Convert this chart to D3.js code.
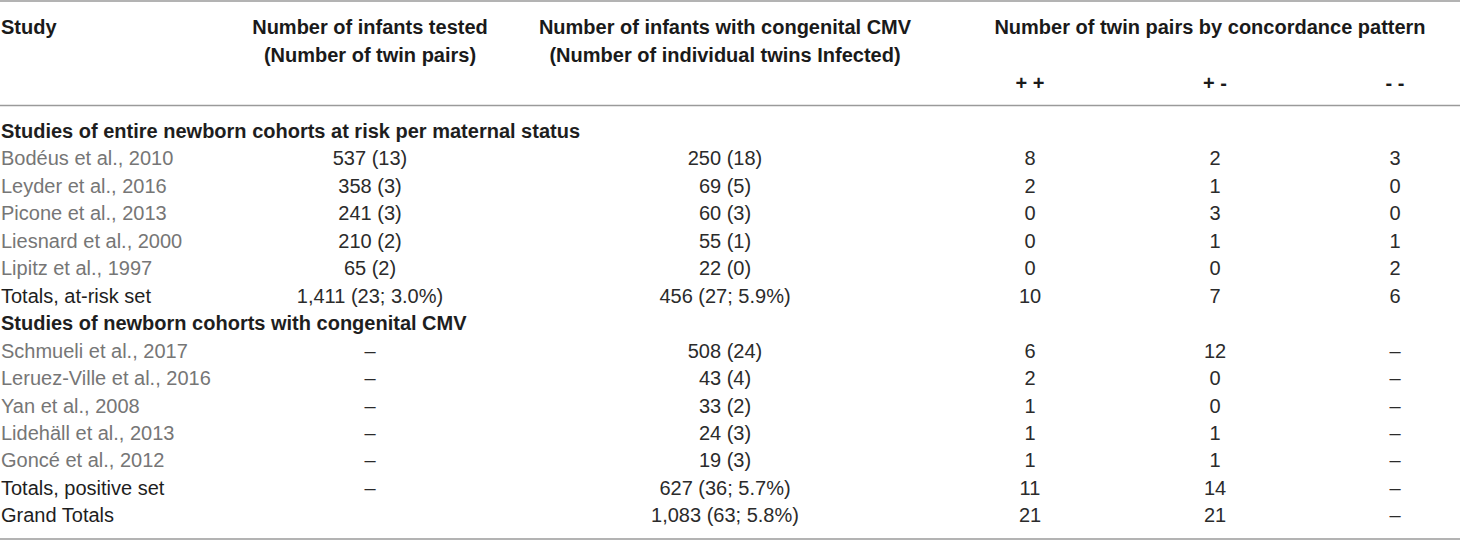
<!DOCTYPE html>
<html>
<head>
<meta charset="utf-8">
<script src="https://cdn.jsdelivr.net/npm/d3@7.9.0/dist/d3.min.js"></script>
<style>
  html, body { margin: 0; padding: 0; background: #fff; }
  svg { display: block; font-family: "Liberation Sans", Arial, Helvetica, sans-serif; }
</style>
</head>
<body>
<div id="chart"></div>
<script>
// table content
const sections = [
    'Studies of entire newborn cohorts at risk per maternal status',
    'Studies of newborn cohorts with congenital CMV'
];

const studies = [
    'Bodéus et al., 2010', 'Leyder et al., 2016', 'Picone et al., 2013',
    'Liesnard et al., 2000', 'Lipitz et al., 1997',
    'Schmueli et al., 2017', 'Leruez-Ville et al., 2016', 'Yan et al., 2008',
    'Lidehäll et al., 2013', 'Goncé et al., 2012'
];
const studySection = [0, 0, 0, 0, 0, 1, 1, 1, 1, 1];
const tested = ['537 (13)', '358 (3)', '241 (3)', '210 (2)', '65 (2)', '–', '–', '–', '–', '–'];
const infected = ['250 (18)', '69 (5)', '60 (3)', '55 (1)', '22 (0)', '508 (24)', '43 (4)', '33 (2)', '24 (3)', '19 (3)'];
const plusPlus = [8, 2, 0, 0, 0, 6, 2, 1, 1, 1];
const plusMinus = [2, 1, 3, 1, 0, 12, 0, 0, 1, 1];
const minusMinus = [3, 0, 0, 1, 2, '–', '–', '–', '–', '–'];

const totalLabels = ['Totals, at-risk set', 'Totals, positive set', 'Grand Totals'];
const totalTested = ['1,411 (23; 3.0%)', '–', ''];
const totalInfected = ['456 (27; 5.9%)', '627 (36; 5.7%)', '1,083 (63; 5.8%)'];
const totalPlusPlus = [10, 11, 21];
const totalPlusMinus = [7, 14, 21];
const totalMinusMinus = [6, '–', '–'];

const columns = ['tested', 'infected', 'pp', 'pm', 'mm'];
const headerLines = {
    tested: ['Number of infants tested', '(Number of twin pairs)'],
    infected: ['Number of infants with congenital CMV', '(Number of individual twins Infected)']
};
const groupHeader = 'Number of twin pairs by concordance pattern';
const patternLabels = { pp: '+ +', pm: '+ -', mm: '- -' };

// build the row list
function buildRows() {
    const rows = [];
    sections.forEach((title, s) => {
        rows.push({ type: 'section', label: title });
        studies.forEach((name, i) => {
            if (studySection[i] !== s) return;
            rows.push({
                type: 'study', label: name,
                tested: tested[i], infected: infected[i],
                pp: plusPlus[i], pm: plusMinus[i], mm: minusMinus[i]
            });
        });
        rows.push({
            type: 'total', label: totalLabels[s],
            tested: totalTested[s], infected: totalInfected[s],
            pp: totalPlusPlus[s], pm: totalPlusMinus[s], mm: totalMinusMinus[s]
        });
    });
    rows.push({
        type: 'total', label: totalLabels[2],
        tested: totalTested[2], infected: totalInfected[2],
        pp: totalPlusPlus[2], pm: totalPlusMinus[2], mm: totalMinusMinus[2]
    });
    return rows;
}

function renderTable() {
    const width = 1460;
    const height = 540;
    const rows = buildRows();

    const svg = d3.select('#chart')
        .append('svg')
        .attr('width', width)
        .attr('height', height)
        .attr('viewBox', `0 0 ${width} ${height}`);

    const xCol = d3.scaleOrdinal()
        .domain(columns)
        .range([370, 725, 1030, 1215, 1395]);

    const yRow = d3.scaleLinear()
        .domain([0, rows.length - 1])
        .range([131, 131 + (rows.length - 1) * 27.45]);

    const yHead = d3.scalePoint()
        .domain([0, 1, 2])
        .range([27, 83]);

    // rules
    const rules = [1, 105.5, 539];
    svg.append('g')
        .selectAll('line')
        .data(rules)
        .join('line')
        .attr('x1', 0)
        .attr('x2', width)
        .attr('y1', d => d)
        .attr('y2', d => d)
        .attr('stroke', '#9a9a9a')
        .attr('stroke-width', 1.5);

    // header
    const head = svg.append('g')
        .attr('font-weight', 'bold')
        .attr('font-size', 20)
        .attr('fill', '#1a1a1a');

    head.append('text')
        .attr('x', 1)
        .attr('y', yHead(0))
        .attr('dy', '0.35em')
        .text('Study');

    for (const key of ['tested', 'infected']) {
        head.selectAll(null)
            .data(headerLines[key])
            .join('text')
            .attr('x', xCol(key))
            .attr('y', (d, i) => yHead(i))
            .attr('dy', '0.35em')
            .attr('text-anchor', 'middle')
            .text(d => d);
    }

    head.append('text')
        .attr('x', 1210)
        .attr('y', yHead(0))
        .attr('dy', '0.35em')
        .attr('text-anchor', 'middle')
        .text(groupHeader);

    head.selectAll(null)
        .data(Object.keys(patternLabels))
        .join('text')
        .attr('x', d => xCol(d))
        .attr('y', yHead(2))
        .attr('dy', '0.35em')
        .attr('text-anchor', 'middle')
        .text(d => patternLabels[d]);

    // body rows
    const body = svg.append('g').attr('font-size', 20);

    const row = body.selectAll('g.row')
        .data(rows)
        .join('g')
        .attr('class', 'row')
        .attr('transform', (d, i) => `translate(0, ${yRow(i)})`);

    row.append('text')
        .attr('x', 1)
        .attr('dy', '0.35em')
        .attr('font-weight', d => d.type === 'section' ? 'bold' : 'normal')
        .attr('fill', d => d.type === 'study' ? '#767676' : '#1e1e1e')
        .text(d => d.label);

    row.filter(d => d.type !== 'section')
        .selectAll('text.cell')
        .data(d => columns.map(c => ({ col: c, value: d[c] })))
        .join('text')
        .attr('class', 'cell')
        .attr('x', d => xCol(d.col))
        .attr('dy', '0.35em')
        .attr('text-anchor', 'middle')
        .attr('fill', '#2b2b2b')
        .text(d => d.value);
}

renderTable();
</script>
</body>
</html>
